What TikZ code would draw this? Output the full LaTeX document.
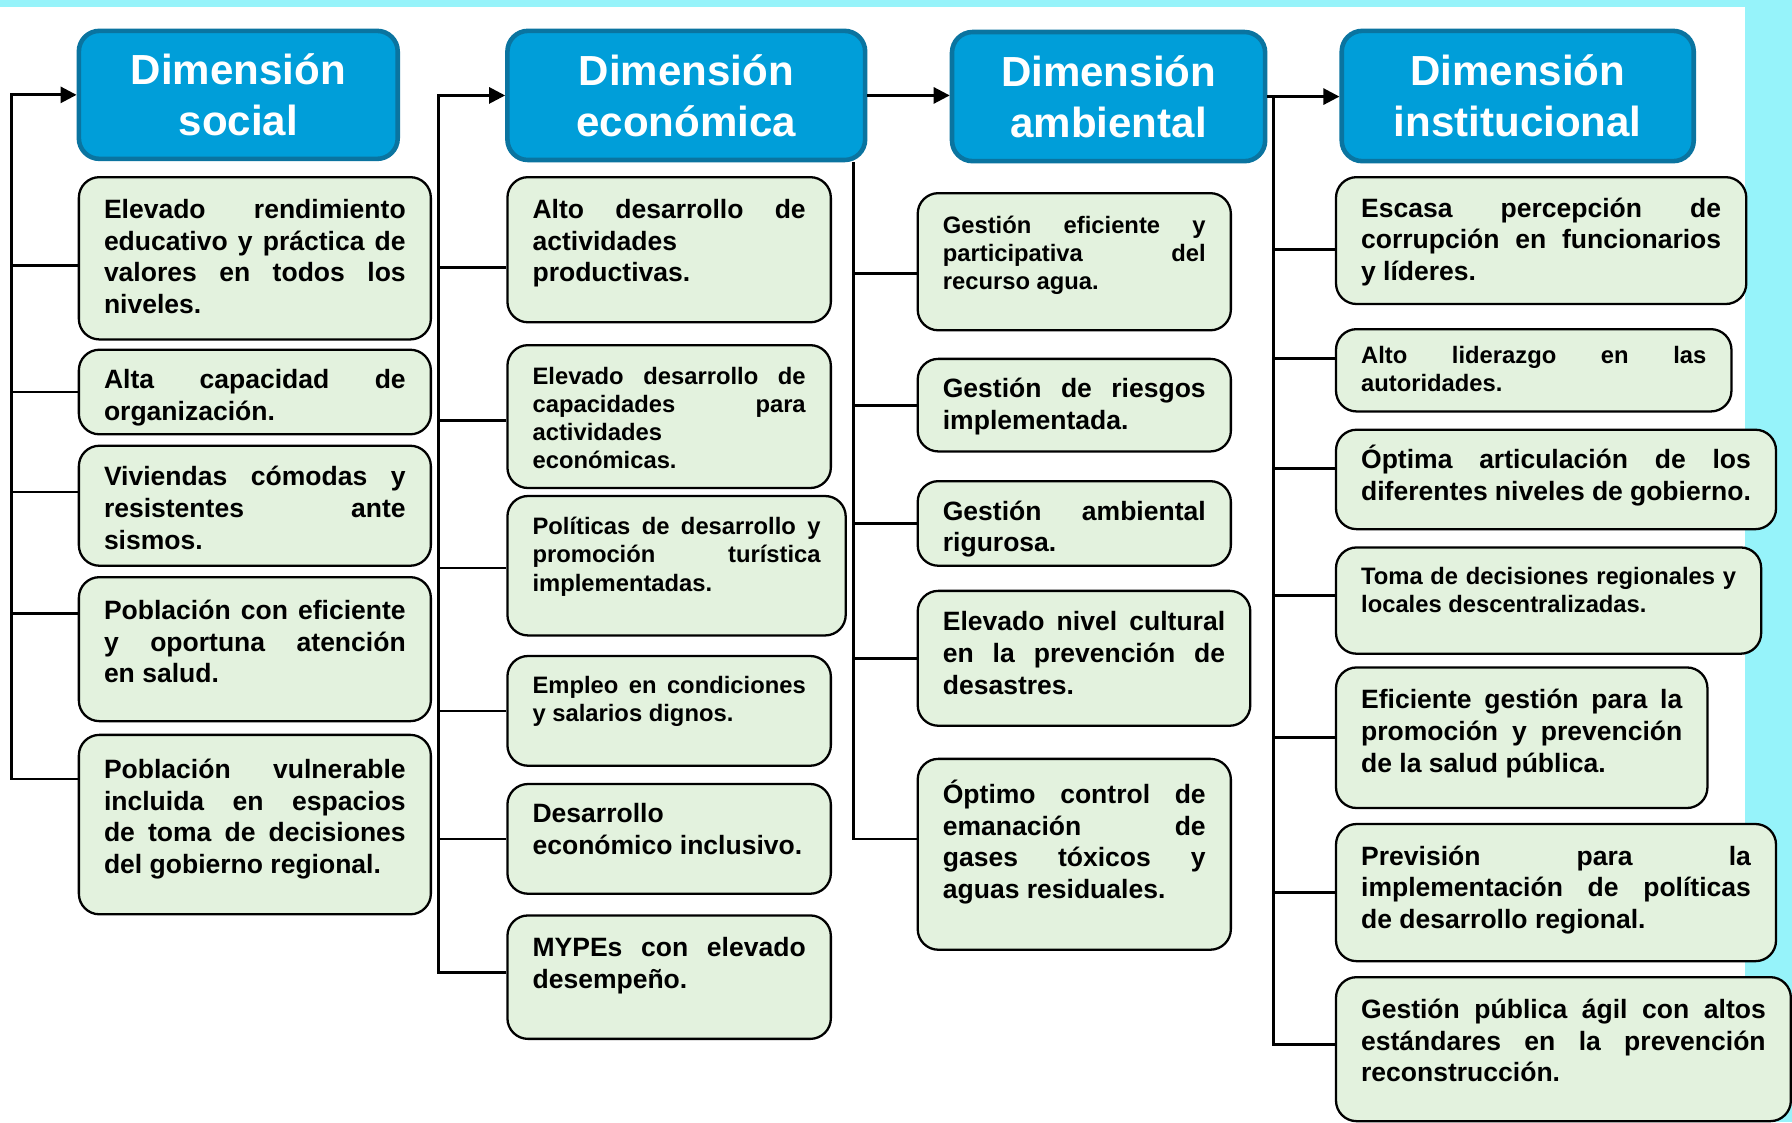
\documentclass[tikz,border=0pt]{standalone}
\usepackage{fontspec}
\setmainfont{Liberation Sans}
\usetikzlibrary{arrows.meta}
\definecolor{fondo}{RGB}{150,243,250}
\definecolor{azuldim}{RGB}{0,158,217}
\definecolor{bordedim}{RGB}{10,116,160}
\definecolor{verdemeta}{RGB}{227,242,222}
\tolerance=10000
\hyphenpenalty=10000
\exhyphenpenalty=10000
\begin{document}
\begin{tikzpicture}[x = 0.5pt, y = -0.5pt,
  dim/.style = {draw=bordedim, line width=2pt, fill=azuldim, rounded corners=9pt, text=white, align=center, anchor=north west, inner sep=0pt, font=\bfseries\fontsize{18.4}{22.2}\selectfont},
  meta/.style = {draw=black, line width=1pt, fill=verdemeta, rounded corners=9pt, align=justify, anchor=north west, inner xsep=11pt, inner ysep=0pt, text height=17.5pt, font=\bfseries\fontsize{11.6}{13.9}\selectfont},
  chica/.style = {font=\bfseries\fontsize{10.4}{12.3}\selectfont},
  linea/.style = {line width=1.2pt},
  flecha/.style = {line width=1.2pt, -{Triangle[length=7pt,width=7pt]}}]
  \useasboundingbox (0,0) rectangle (1568,982);
  \fill[fondo] (0,0) rectangle (1568,982);
  \fill[white] (0,6) rectangle (1527,982);
  % cabeceras
  \node[dim, minimum width=139.5pt, minimum height=56pt] (soc) at (67,25) {Dimensión\\social};
  \node[dim, minimum width=156.5pt, minimum height=56.5pt] (eco) at (442,25) {Dimensión\\económica};
  \node[dim, minimum width=137pt, minimum height=56.5pt] (amb) at (831,26) {Dimensión\\ambiental};
  \node[dim, minimum width=154pt, minimum height=57pt] (ins) at (1172,25) {Dimensión\\institucional};
  % social
  \node[meta, text width=132pt, text height=18pt, text depth=53pt] (s1) at (68,154) {Elevado rendimiento\linebreak educativo y práctica de\linebreak valores en todos los\linebreak niveles.};
  \node[meta, text width=132pt, text height=17pt, text depth=20pt] (s2) at (68,305) {Alta capacidad de\linebreak organización.};
  \node[meta, text width=132pt, text depth=35pt] (s3) at (68,389) {Viviendas cómodas y\linebreak resistentes ante\linebreak sismos.};
  \node[meta, text width=132pt, text height=18.5pt, text depth=44.5pt] (s4) at (68,504) {Población con eficiente\linebreak y oportuna atención\linebreak en salud.};
  \node[meta, text width=132pt, text height=19pt, text depth=59.5pt] (s5) at (68,642) {Población vulnerable\linebreak incluida en espacios\linebreak de toma de decisiones\linebreak del gobierno regional.};
  % economica
  \node[meta, text width=119.5pt, text height=18pt, text depth=45.5pt] (e1) at (443,154) {Alto desarrollo de\linebreak actividades\linebreak productivas.};
  \node[meta, chica, text width=119.5pt, text height=17pt, text depth=45.5pt] (e2) at (443,301) {Elevado desarrollo de\linebreak capacidades para\linebreak actividades\linebreak económicas.};
  \node[meta, chica, text width=126pt, text height=17pt, text depth=44pt] (e3) at (443,433) {Políticas de desarrollo y\linebreak promoción turística\linebreak implementadas.};
  \node[meta, chica, text width=119.5pt, text height=16.5pt, text depth=31.5pt] (e4) at (443,573) {Empleo en condiciones\linebreak y salarios dignos.};
  \node[meta, text width=119.5pt, text height=17pt, text depth=31pt] (e5) at (443,685) {Desarrollo\linebreak económico inclusivo.};
  \node[meta, text width=119.5pt, text height=18pt, text depth=36pt] (e6) at (443,800) {MYPEs con elevado\linebreak desempeño.};
  % ambiental
  \node[meta, chica, text width=115pt, text depth=42.5pt] (a1) at (802,168) {Gestión eficiente y\linebreak participativa del\linebreak recurso agua.};
  \node[meta, text width=115pt, text height=17pt, text depth=23.5pt] (a2) at (802,313) {Gestión de riesgos\linebreak implementada.};
  \node[meta, text width=115pt, text height=17pt, text depth=20pt] (a3) at (802,420) {Gestión ambiental\linebreak rigurosa.};
  \node[meta, text width=123.5pt, text height=17.5pt, text depth=41.5pt] (a4) at (802,516) {Elevado nivel cultural\linebreak en la prevención de\linebreak desastres.};
  \node[meta, text width=115pt, text height=19.5pt, text depth=64pt] (a5) at (802,663) {Óptimo control de\linebreak emanación de\linebreak gases tóxicos y\linebreak aguas residuales.};
  % institucional
  \node[meta, text width=157.5pt, text depth=38pt] (i1) at (1168,154) {Escasa percepción de\linebreak corrupción en funcionarios\linebreak y líderes.};
  \node[meta, chica, text width=151pt, text height=15pt, text depth=21pt] (i2) at (1168,287) {Alto liderazgo en las\linebreak autoridades.};
  \node[meta, text width=170.5pt, text height=17pt, text depth=26.5pt] (i3) at (1168,375) {Óptima articulación de los\linebreak diferentes niveles de gobierno.};
  \node[meta, chica, text width=164pt, text height=16pt, text depth=30.5pt] (i4) at (1168,478) {Toma de decisiones regionales y\linebreak locales descentralizadas.};
  \node[meta, text width=140.5pt, text height=18pt, text depth=43.5pt] (i5) at (1168,583) {Eficiente gestión para la\linebreak promoción y prevención\linebreak de la salud pública.};
  \node[meta, text width=170.5pt, text height=18pt, text depth=42pt] (i6) at (1168,720) {Previsión para la\linebreak implementación de políticas\linebreak de desarrollo regional.};
  \node[meta, text width=177pt, text height=18pt, text depth=45pt] (i7) at (1168,854) {Gestión pública ágil con altos\linebreak estándares en la prevención\linebreak reconstrucción.};
  % conectores social
  \coordinate (sbus) at ([xshift=-28.5pt]soc.west);
  \draw[flecha] ([yshift=20pt]s5.west) -| (sbus) -- (soc.west);
  \draw[linea] (sbus) |- ([yshift=-3pt]s1.west);
  \draw[linea] (sbus) |- (s2.west);
  \draw[linea] (sbus) |- ([yshift=6pt]s3.west);
  \draw[linea] (sbus) |- ([yshift=15.5pt]s4.west);
  % conectores economica
  \coordinate (ebus) at ([xshift=-29pt]eco.west);
  \draw[flecha] ([yshift=2pt]e6.west) -| (ebus) -- (eco.west);
  \draw[linea] (ebus) |- ([yshift=-7.75pt]e1.west);
  \draw[linea] (ebus) |- ([yshift=-1.75pt]e2.west);
  \draw[linea] (ebus) |- ([yshift=-1pt]e3.west);
  \draw[linea] (ebus) |- (e4.west);
  \draw[linea] (ebus) |- (e5.west);
  % conectores ambiental
  \draw[flecha] (eco.east) -- (eco.east -| amb.west);
  \coordinate (abus) at ([xshift=-6pt]eco.south east);
  \draw[linea] (abus) |- ([yshift=6.75pt]a5.west);
  \draw[linea] (abus) |- ([yshift=-5pt]a1.west);
  \draw[linea] (abus) |- (a2.west);
  \draw[linea] (abus) |- (a3.west);
  \draw[linea] (abus) |- (a4.west);
  % conectores institucional
  \draw[flecha] (amb.east) -- (amb.east -| ins.west);
  \coordinate (ibus) at ([xshift=2.5pt]amb.east);
  \draw[linea] (ibus) |- ([yshift=2pt]i7.west);
  \draw[linea] (ibus) |- ([yshift=-3.75pt]i1.west);
  \draw[linea] (ibus) |- ([yshift=5pt]i2.west);
  \draw[linea] (ibus) |- ([yshift=4.75pt]i3.west);
  \draw[linea] (ibus) |- ([yshift=2.25pt]i4.west);
  \draw[linea] (ibus) |- (i5.west);
  \draw[linea] (ibus) |- (i6.west);
\end{tikzpicture}
\end{document}
